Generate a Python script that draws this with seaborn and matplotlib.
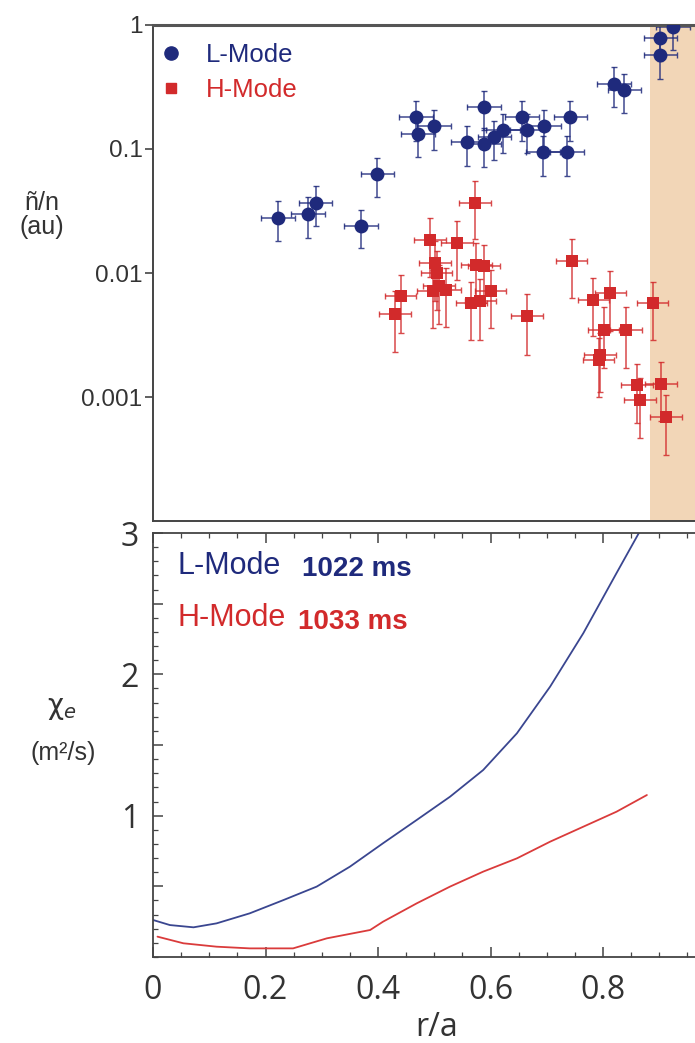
import matplotlib
matplotlib.use("Agg")
import matplotlib.pyplot as plt
import seaborn as sns
import pandas as pd
from matplotlib.ticker import FixedLocator, FixedFormatter, MultipleLocator
from matplotlib.lines import Line2D

# ---------------- data ----------------
# Top panel: fluctuation amplitude n~/n (au) vs r/a
l_x = [0.222, 0.275, 0.289, 0.370, 0.399, 0.468, 0.471, 0.500, 0.559, 0.588, 0.588, 0.607,
       0.622, 0.656, 0.665, 0.695, 0.693, 0.736, 0.742, 0.819, 0.838, 0.902, 0.902, 0.924]
l_y = [0.028, 0.030, 0.037, 0.024, 0.063, 0.180, 0.132, 0.152, 0.113, 0.218, 0.110, 0.124,
       0.141, 0.180, 0.141, 0.152, 0.094, 0.094, 0.180, 0.337, 0.301, 0.78, 0.57, 0.97]
l_yerr = [0.010, 0.011, 0.013, 0.008, 0.022, 0.063, 0.046, 0.053, 0.040, 0.076, 0.039, 0.043,
          0.049, 0.063, 0.049, 0.053, 0.033, 0.033, 0.063, 0.118, 0.105, 0.27, 0.20, 0.34]
l_xerr = [0.030, 0.030, 0.030, 0.030, 0.030, 0.030, 0.030, 0.030, 0.030, 0.030, 0.030, 0.030,
          0.030, 0.030, 0.030, 0.030, 0.030, 0.030, 0.030, 0.030, 0.030, 0.030, 0.030, 0.030]

h_x = [0.572, 0.492, 0.540, 0.575, 0.588, 0.501, 0.504, 0.508, 0.520, 0.498, 0.440, 0.430,
       0.600, 0.566, 0.582, 0.665, 0.744, 0.783, 0.813, 0.801, 0.841, 0.888, 0.795, 0.792,
       0.860, 0.866, 0.903, 0.912]
h_y = [0.0369, 0.0186, 0.0175, 0.0117, 0.0113, 0.0120, 0.0100, 0.0078, 0.0073, 0.0071, 0.0065,
       0.0047, 0.0071, 0.0057, 0.0059, 0.0045, 0.0126, 0.0061, 0.0069, 0.0035, 0.0035, 0.0057,
       0.0022, 0.0020, 0.00124, 0.00094, 0.00128, 0.00069]
h_yerr = [0.018, 0.0093, 0.0088, 0.0058, 0.0056, 0.0060, 0.0050, 0.0039, 0.0036, 0.0035, 0.0032,
          0.0024, 0.0035, 0.0028, 0.0030, 0.0023, 0.0063, 0.0030, 0.0035, 0.0018, 0.0018, 0.0028,
          0.0011, 0.0010, 0.00062, 0.00047, 0.00064, 0.00035]
h_xerr = [0.028, 0.028, 0.028, 0.028, 0.028, 0.028, 0.028, 0.028, 0.028, 0.028, 0.028,
          0.028, 0.028, 0.028, 0.028, 0.028, 0.028, 0.028, 0.028, 0.028, 0.028, 0.028,
          0.028, 0.028, 0.028, 0.028, 0.028, 0.028]

edge_start = 0.884  # shaded edge region start (r/a)

top_yticks = [0.001, 0.01, 0.1, 1]
top_yticklabels = ["0.001", "0.01", "0.1", "1"]

# Bottom panel: chi_e (m^2/s) vs r/a
l_r = [0.000, 0.030, 0.072, 0.113, 0.172, 0.232, 0.291, 0.350, 0.409, 0.469, 0.528,
       0.587, 0.647, 0.706, 0.765, 0.824, 0.868]
l_chi = [0.262, 0.226, 0.210, 0.238, 0.309, 0.403, 0.498, 0.639, 0.805, 0.970, 1.134,
         1.323, 1.583, 1.913, 2.291, 2.716, 3.03]
h_r = [0.008, 0.054, 0.113, 0.172, 0.249, 0.309, 0.386, 0.409, 0.469, 0.528, 0.587,
       0.647, 0.706, 0.765, 0.824, 0.878]
h_chi = [0.144, 0.097, 0.073, 0.061, 0.061, 0.132, 0.191, 0.250, 0.380, 0.498, 0.604,
         0.698, 0.816, 0.922, 1.028, 1.146]

bot_xticks = [0, 0.2, 0.4, 0.6, 0.8, 1.0]
bot_xticklabels = ["0", "0.2", "0.4", "0.6", "0.8", ""]
bot_yticks = [0.5, 1, 1.5, 2, 2.5, 3]
bot_yticklabels = ["", "1", "", "2", "", "3"]

# ---------------- style ----------------
sns.set_theme(style="ticks")
NARROW = ["Liberation Sans Narrow", "Liberation Sans", "DejaVu Sans"]
plt.rcParams["font.family"] = NARROW

BLUE = "#1F2A7C"
RED = "#D22A2B"
BLUE_LINE = "#3A4690"
RED_LINE = "#DA3B3B"
SHADE = "#F2D6B7"
GREY = "#444444"

fig = plt.figure(figsize=(6.95, 10.43), dpi=100)
W = 562.5 / 695
ax1 = fig.add_axes([153 / 695, 1 - 521 / 1043, W, 496 / 1043])
ax2 = fig.add_axes([153 / 695, 1 - 957 / 1043, W, 424 / 1043])

# ---------------- top panel ----------------
ax1.set_yscale("log")
ax1.set_xlim(0, 1)
ax1.set_ylim(1e-4, 1)
ax1.axvspan(edge_start, 1.0, color=SHADE, lw=0, zorder=0)

ax1.errorbar(l_x, l_y, yerr=l_yerr, xerr=l_xerr, fmt="none", ecolor=BLUE,
             elinewidth=1.1, capsize=2.2, capthick=1.0, alpha=0.85, zorder=2)
ax1.errorbar(h_x, h_y, yerr=h_yerr, xerr=h_xerr, fmt="none", ecolor=RED,
             elinewidth=1.1, capsize=2.2, capthick=1.0, alpha=0.85, zorder=2)
df_l = pd.DataFrame({"x": l_x, "y": l_y})
df_h = pd.DataFrame({"x": h_x, "y": h_y})
sns.scatterplot(data=df_l, x="x", y="y", ax=ax1, color=BLUE, marker="o", s=100,
                edgecolor=BLUE, linewidth=0, zorder=3, legend=False)
sns.scatterplot(data=df_h, x="x", y="y", ax=ax1, color=RED, marker="s", s=82,
                edgecolor=RED, linewidth=0, zorder=3, legend=False)

ax1.yaxis.set_major_locator(FixedLocator(top_yticks))
ax1.yaxis.set_major_formatter(FixedFormatter(top_yticklabels))
ax1.yaxis.set_minor_locator(FixedLocator([]))
ax1.tick_params(axis="y", which="major", direction="out", length=6, width=1.2,
                color=GREY, labelsize=17.5, labelcolor="#333333", pad=1.5)
ax1.tick_params(axis="x", which="both", bottom=False, top=False, labelbottom=False)
ax1.set_xlabel("")
ax1.set_ylabel("")
for side in ["left", "bottom"]:
    ax1.spines[side].set_color(GREY)
    ax1.spines[side].set_linewidth(1.4)
ax1.spines["top"].set_color("#555555")
ax1.spines["top"].set_linewidth(2.2)
ax1.spines["right"].set_visible(False)

handles = [Line2D([], [], marker="o", color=BLUE, ls="none", markersize=9.5),
           Line2D([], [], marker="s", color=RED, ls="none", markersize=7)]
leg = ax1.legend(handles, ["L-Mode", "H-Mode"], loc="upper left", frameon=False,
                 prop={"family": NARROW, "size": 18.5}, handletextpad=1.05,
                 borderaxespad=0.0, labelspacing=0.42, handlelength=0.6,
                 bbox_to_anchor=(0.0, 0.985))
for txt, c in zip(leg.get_texts(), [BLUE, RED]):
    txt.set_color(c)

fig.text(42 / 695, 1 - 203 / 1043, "ñ/n", ha="center", va="center",
         fontsize=18, color="#333333", family=NARROW)
fig.text(42 / 695, 1 - 227 / 1043, "(au)", ha="center", va="center",
         fontsize=18, color="#333333", family=NARROW)

# ---------------- bottom panel ----------------
df_lc = pd.DataFrame({"r": l_r, "chi": l_chi})
df_hc = pd.DataFrame({"r": h_r, "chi": h_chi})
sns.lineplot(data=df_lc, x="r", y="chi", ax=ax2, color=BLUE_LINE, lw=1.3, sort=False)
sns.lineplot(data=df_hc, x="r", y="chi", ax=ax2, color=RED_LINE, lw=1.3, sort=False)
ax2.set_xlim(0, 1)
ax2.set_ylim(0, 3)
ax2.set_xlabel("")
ax2.set_ylabel("")
ax2.xaxis.set_major_locator(FixedLocator(bot_xticks))
ax2.xaxis.set_major_formatter(FixedFormatter(bot_xticklabels))
ax2.xaxis.set_minor_locator(MultipleLocator(0.05))
ax2.yaxis.set_major_locator(FixedLocator(bot_yticks))
ax2.yaxis.set_major_formatter(FixedFormatter(bot_yticklabels))
ax2.yaxis.set_minor_locator(MultipleLocator(0.1))
ax2.tick_params(which="both", direction="in", top=True, right=True, color=GREY)
ax2.tick_params(which="major", length=7, width=1.1)
ax2.tick_params(which="minor", length=3.5, width=0.9)
for lab in ax2.get_xticklabels() + ax2.get_yticklabels():
    lab.set_family(["Open Sans", "DejaVu Sans"])
ax2.tick_params(axis="x", labelsize=23, labelcolor="#333333", pad=12)
ax2.tick_params(axis="y", labelsize=23, labelcolor="#333333", pad=10)
for side in ["left", "bottom", "top", "right"]:
    ax2.spines[side].set_color(GREY)
    ax2.spines[side].set_linewidth(1.3)

ax2.text(0.044, 0.922, "L-Mode", transform=ax2.transAxes, color=BLUE,
         fontsize=22, va="center", ha="left", family=NARROW)
ax2.text(0.265, 0.915, "1022 ms", transform=ax2.transAxes, color=BLUE,
         fontsize=20, va="center", ha="left", family=NARROW, fontweight="bold")
ax2.text(0.044, 0.800, "H-Mode", transform=ax2.transAxes, color=RED,
         fontsize=22, va="center", ha="left", family=NARROW)
ax2.text(0.258, 0.790, "1033 ms", transform=ax2.transAxes, color=RED,
         fontsize=20, va="center", ha="left", family=NARROW, fontweight="bold")

fig.text(62 / 695, 1 - 708 / 1043, "χ$_e$", ha="center", va="center",
         fontsize=20, color="#333333", family=["DejaVu Sans"])
fig.text(63 / 695, 1 - 753 / 1043, "(m²/s)", ha="center", va="center",
         fontsize=18, color="#333333", family=NARROW)
fig.text(437 / 695, 1 - 1028 / 1043, "r/a", ha="center", va="center",
         fontsize=23, color="#333333", family=["Open Sans", "DejaVu Sans"])

fig.savefig("out.png", dpi=100)
